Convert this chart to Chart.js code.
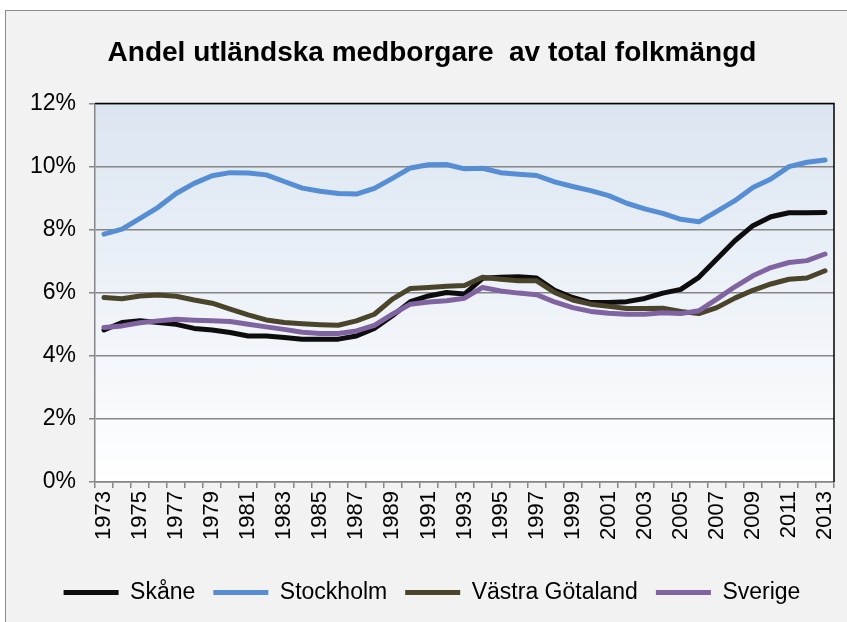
<!DOCTYPE html>
<html>
<head>
<meta charset="utf-8">
<script src="https://cdn.jsdelivr.net/npm/chart.js@4.4.1/dist/chart.umd.min.js"></script>
<style>
  html, body { margin: 0; padding: 0; background: #ffffff; }
  #frame { position: absolute; left: 5px; top: 10px; width: 860px; height: 630px;
           background: #f2f2f2; border: 1.5px solid #8c8c8c; box-sizing: border-box; }
  #wrap { position: absolute; left: 0; top: 0; width: 847px; height: 622px; }
</style>
</head>
<body>
<div id="frame"></div>
<div id="wrap"><canvas id="c" width="847" height="622"></canvas></div>
<script>
const years = ['1973','1974','1975','1976','1977','1978','1979','1980','1981','1982','1983','1984','1985','1986','1987','1988','1989','1990','1991','1992','1993','1994','1995','1996','1997','1998','1999','2000','2001','2002','2003','2004','2005','2006','2007','2008','2009','2010','2011','2012','2013'];
const skane = [4.82,5.06,5.11,5.06,5.00,4.87,4.82,4.74,4.63,4.63,4.58,4.53,4.53,4.53,4.63,4.87,5.27,5.72,5.90,6.01,5.96,6.46,6.49,6.51,6.47,6.08,5.85,5.69,5.69,5.72,5.82,5.99,6.11,6.49,7.07,7.65,8.13,8.41,8.54,8.54,8.55];
const stockholm = [7.86,8.02,8.36,8.71,9.15,9.47,9.71,9.81,9.80,9.74,9.53,9.32,9.22,9.15,9.13,9.31,9.63,9.96,10.06,10.07,9.93,9.95,9.81,9.76,9.72,9.52,9.37,9.24,9.08,8.84,8.66,8.52,8.33,8.25,8.58,8.92,9.34,9.61,10.00,10.14,10.21];
const vastraGotaland = [5.85,5.81,5.90,5.93,5.89,5.77,5.67,5.48,5.30,5.14,5.06,5.02,4.99,4.97,5.11,5.32,5.80,6.14,6.17,6.21,6.23,6.49,6.43,6.38,6.38,6.01,5.77,5.64,5.57,5.50,5.50,5.51,5.41,5.34,5.53,5.83,6.08,6.28,6.43,6.47,6.70];
const sverige = [4.90,4.95,5.05,5.11,5.16,5.13,5.11,5.09,5.00,4.92,4.84,4.75,4.71,4.71,4.79,4.97,5.32,5.64,5.71,5.75,5.83,6.17,6.06,5.99,5.94,5.71,5.53,5.41,5.35,5.32,5.32,5.37,5.34,5.43,5.80,6.19,6.54,6.80,6.96,7.02,7.23];
const seriesNames = ['Skåne','Stockholm','Västra Götaland','Sverige'];
const yTicks = [0,2,4,6,8,10,12];
const titleText = 'Andel utländska medborgare  av total folkmängd';

const FONT = "'Liberation Sans', Arial, sans-serif";
const GRID = '#868686';

const plotBg = {
  id: 'plotBg',
  beforeDraw(chart) {
    const {ctx, chartArea: a} = chart;
    const g = ctx.createLinearGradient(0, a.top, 0, a.bottom);
    g.addColorStop(0, '#dbe5f1');
    g.addColorStop(1, '#ffffff');
    ctx.save();
    ctx.fillStyle = g;
    ctx.fillRect(a.left, a.top, a.right - a.left, a.bottom - a.top);
    ctx.restore();
  },
  afterDraw(chart) {
    const {ctx, chartArea: a} = chart;
    ctx.save();
    ctx.strokeStyle = '#000000';
    ctx.lineWidth = 1.5;
    ctx.beginPath();
    ctx.moveTo(a.left, a.top);
    ctx.lineTo(a.right, a.top);
    ctx.lineTo(a.right, a.bottom);
    ctx.stroke();
    ctx.restore();
  }
};

const mk = (i, data, color, order) => ({
  label: seriesNames[i], data, borderColor: color, backgroundColor: color,
  borderWidth: 5, pointRadius: 0, tension: 0, order, fill: false,
  borderJoinStyle: 'round', borderCapStyle: 'round'
});

new Chart(document.getElementById('c'), {
  type: 'line',
  data: {
    labels: years,
    datasets: [
      mk(0, skane, '#0d0d0d', 4),
      mk(1, stockholm, '#558ed5', 3),
      mk(2, vastraGotaland, '#4a452a', 2),
      mk(3, sverige, '#8064a2', 1)
    ]
  },
  options: {
    responsive: false,
    animation: false,
    layout: { padding: { left: 30, right: 13, top: 0, bottom: 8 } },
    plugins: {
      title: {
        display: true, text: titleText, color: '#000000',
        font: { family: FONT, size: 28, weight: 'bold' },
        padding: { top: 36, bottom: 34 }
      },
      legend: {
        position: 'bottom',
        labels: {
          sort: (a, b) => a.datasetIndex - b.datasetIndex,
          usePointStyle: true, pointStyle: 'line', pointStyleWidth: 55,
          color: '#000000', font: { family: FONT, size: 23 }, padding: 18
        }
      },
      tooltip: { enabled: false }
    },
    scales: {
      x: {
        offset: true,
        afterFit(s) { s.height = 81; s.paddingLeft = 0; s.paddingRight = 0; },
        grid: { display: true, offset: true, drawOnChartArea: false, drawTicks: true, tickLength: 6, color: GRID, lineWidth: 1.5 },
        border: { display: true, color: GRID, width: 1.5 },
        ticks: {
          autoSkip: false, maxRotation: 90, minRotation: 90, padding: 3,
          color: '#000000', font: { family: FONT, size: 22 },
          callback: (v, i) => (i % 2 === 0 ? years[i] : '')
        }
      },
      y: {
        min: 0, max: 12,
        afterFit(s) { s.width = 65; },
        afterBuildTicks(s) { s.ticks = yTicks.map(v => ({ value: v })); },
        grid: { color: GRID, lineWidth: 1.5, tickLength: 6, drawTicks: true },
        border: { display: true, color: GRID, width: 1.5 },
        ticks: {
          padding: 13, color: '#000000', font: { family: FONT, size: 23 },
          callback: v => v + '%'
        }
      }
    }
  },
  plugins: [plotBg]
});
</script>
</body>
</html>
